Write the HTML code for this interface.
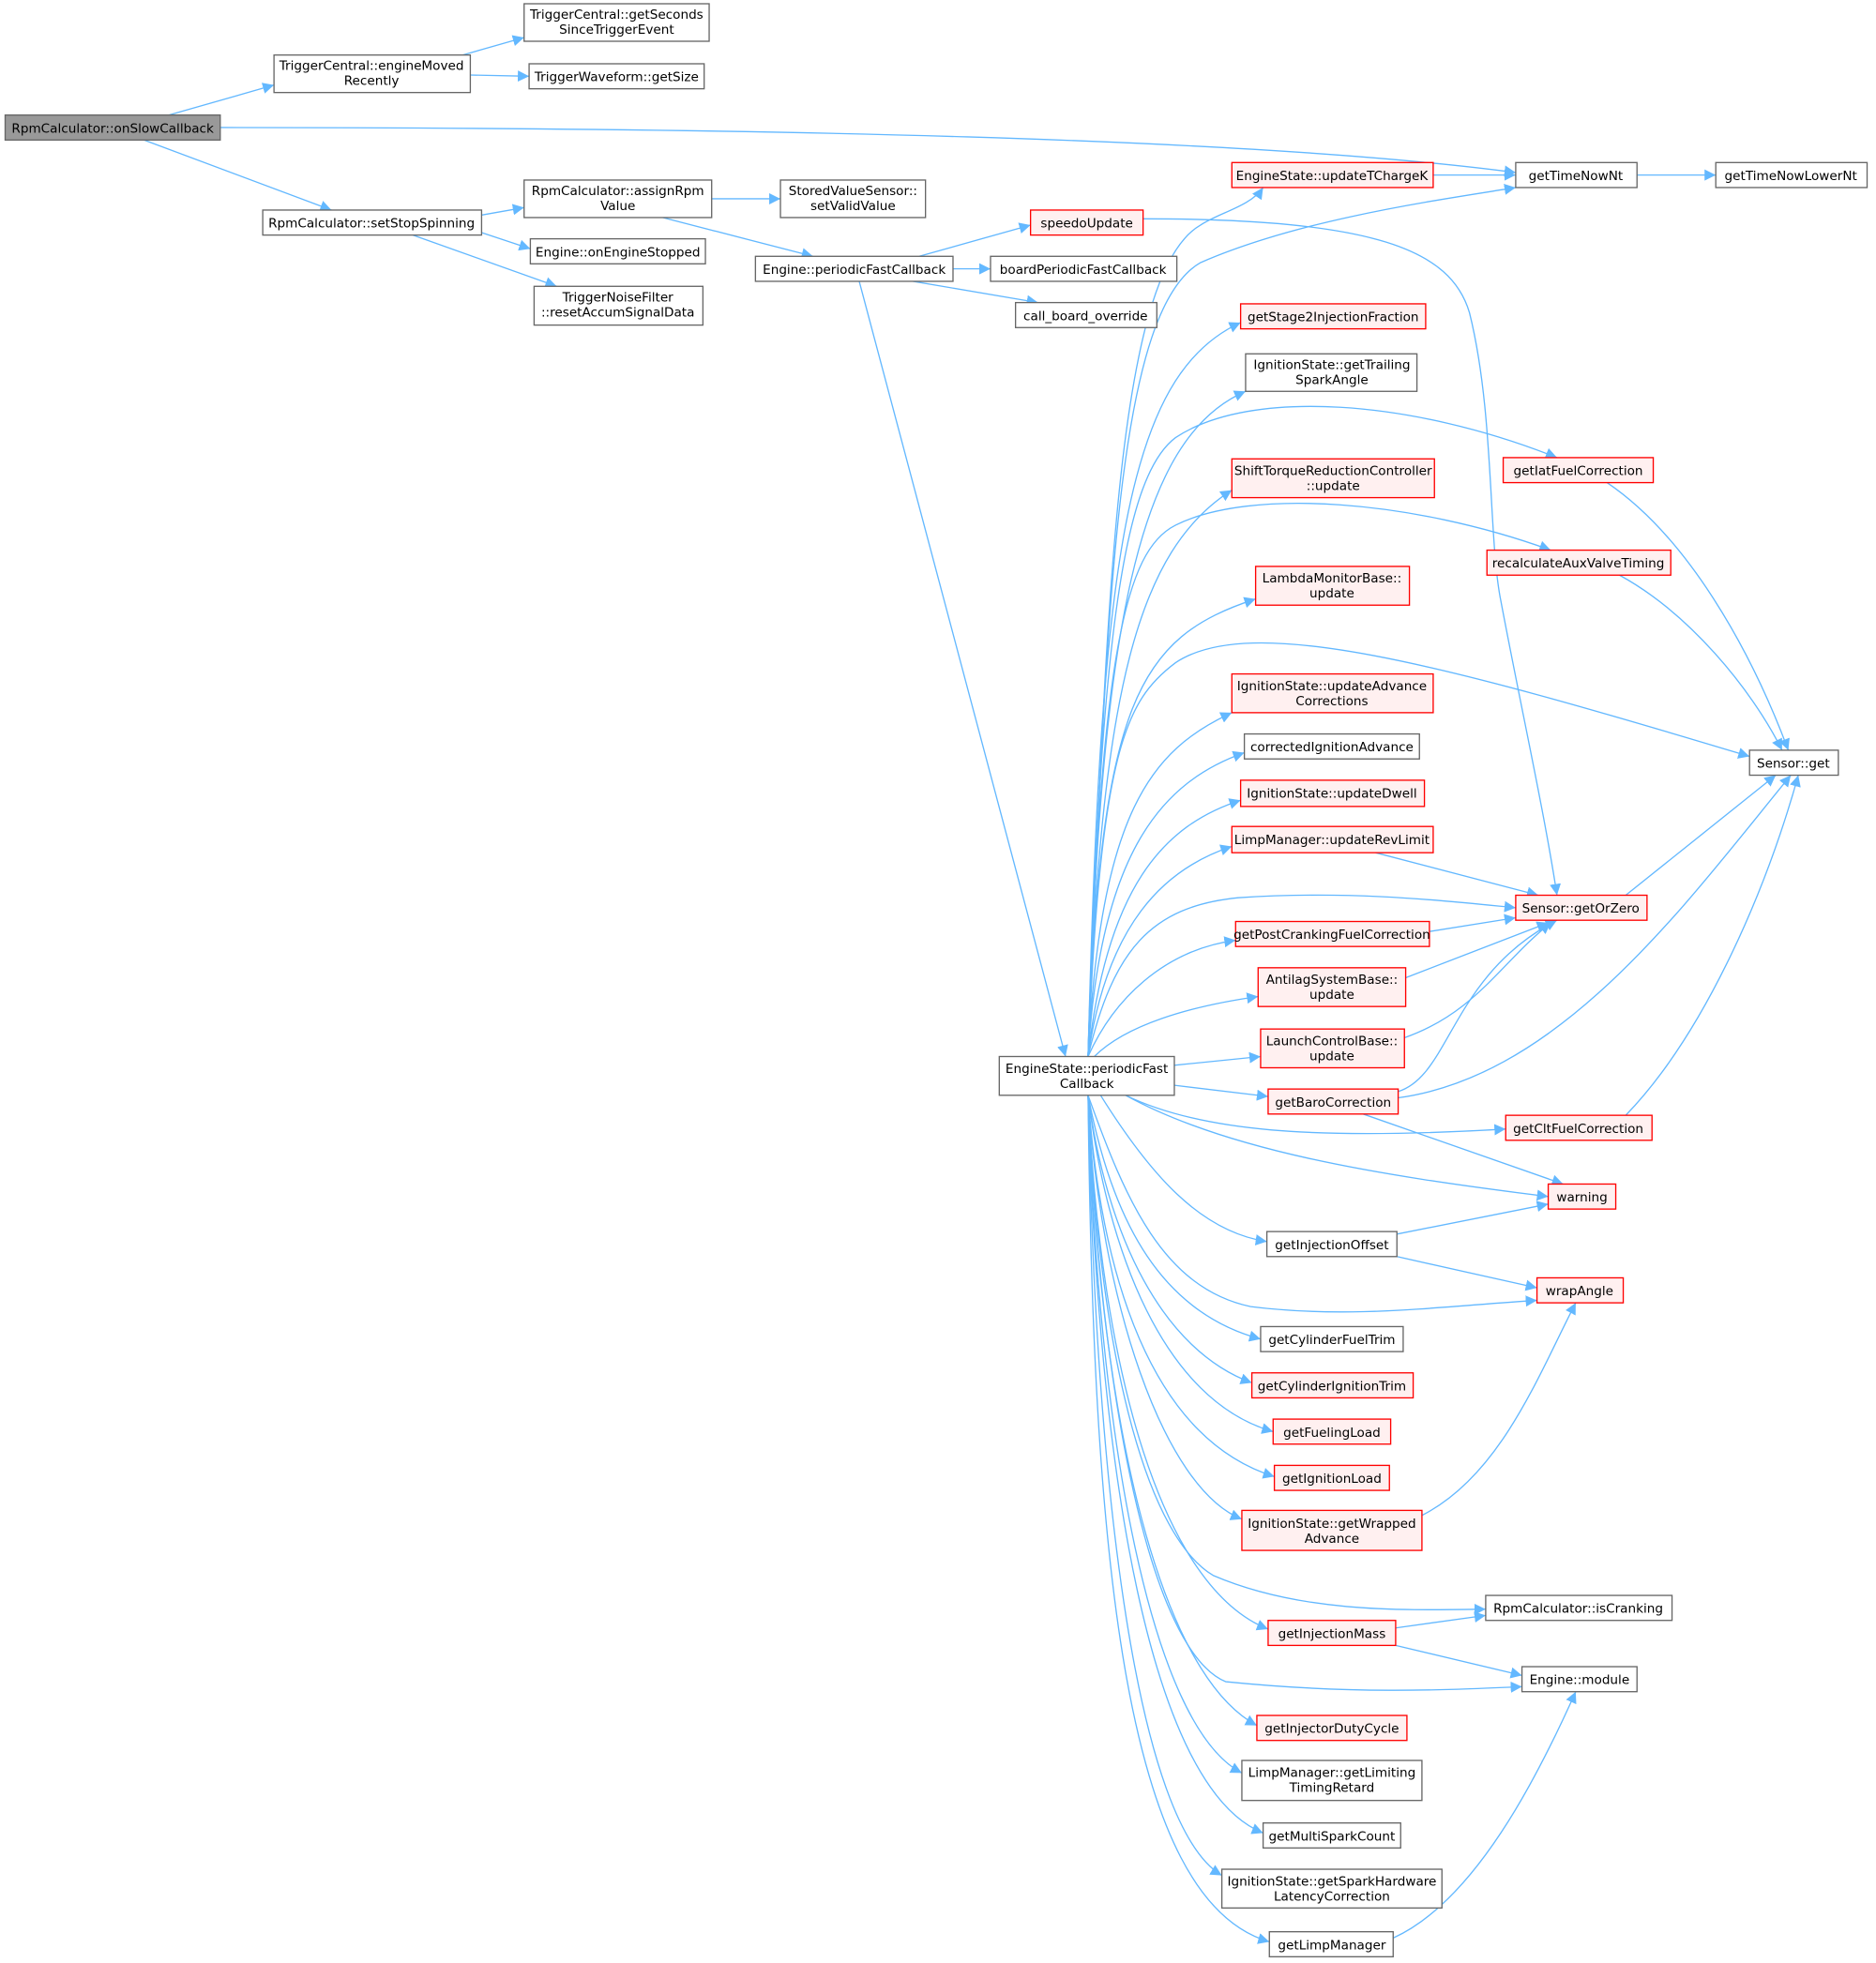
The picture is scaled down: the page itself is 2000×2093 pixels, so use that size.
<!DOCTYPE html>
<html><head><meta charset="utf-8"><style>
html,body{margin:0;padding:0;background:#fff}
svg{display:block}
text{font-family:"DejaVu Sans","Liberation Sans",sans-serif;font-size:10.2px;fill:#000;text-anchor:middle}
.n{fill:#fff;stroke:#666;stroke-width:1}
.r{fill:#fff0f0;stroke:#f00;stroke-width:1}
.g{fill:#999;stroke:#666;stroke-width:1}
.e{fill:none;stroke:#63b8ff;stroke-width:1}
</style></head><body>
<svg width="2000" height="2093" viewBox="0 0 1500 1570" xmlns="http://www.w3.org/2000/svg">
<defs><marker id="a" viewBox="0 0 10 10" refX="10" refY="5" markerWidth="9" markerHeight="9" markerUnits="userSpaceOnUse" orient="auto"><path d="M0,0 L10,5 L0,10 z" fill="#63b8ff"/></marker></defs>
<g marker-end="url(#a)">
<path class="e" d="M135,92 L219,68"/>
<path class="e" d="M176,102 C600,102 1000,110 1212,138"/>
<path class="e" d="M115,112 L265,168"/>
<path class="e" d="M370,44 L419,30"/>
<path class="e" d="M376,60 L423,61"/>
<path class="e" d="M385,172 L419,166"/>
<path class="e" d="M385,186 L424,199"/>
<path class="e" d="M330,188 L445,229"/>
<path class="e" d="M569,159 L624,159"/>
<path class="e" d="M530,174 L650,205"/>
<path class="e" d="M735,205 L824,180"/>
<path class="e" d="M762,215 L792,215"/>
<path class="e" d="M730,225 L830,242"/>
<path class="e" d="M687,225 L852,845"/>
<path class="e" d="M914,175 C1100,175 1160,200 1175,250 C1195,330 1190,430 1200,480 C1215,560 1235,650 1245,716"/>
<path class="e" d="M1146,140 L1212,140"/>
<path class="e" d="M1309,140 L1372,140"/>
<!-- hub up -->
<path class="e" d="M870,845 C885,500 890,220 960,180 C975,170 1000,165 1010,150"/>
<path class="e" d="M870,845 C885,500 890,250 960,210 C1040,175 1150,160 1212,150"/>
<path class="e" d="M870,845 C880,450 900,300 992,258"/>
<path class="e" d="M870,845 C880,500 910,350 996,313"/>
<path class="e" d="M870,845 C880,550 910,440 985,392"/>
<path class="e" d="M870,845 C880,500 900,380 940,350 C1000,310 1130,320 1245,366"/>
<path class="e" d="M870,845 C880,560 910,510 1004,479"/>
<path class="e" d="M870,845 C880,520 900,440 940,420 C1000,390 1130,400 1240,440"/>
<path class="e" d="M870,845 C880,600 900,560 940,530 C1000,490 1150,530 1399,605"/>
<path class="e" d="M870,845 C880,650 920,600 985,570"/>
<path class="e" d="M870,845 C880,680 930,625 995,602"/>
<path class="e" d="M870,845 C885,710 930,660 992,640"/>
<path class="e" d="M870,845 C885,740 930,695 985,677"/>
<path class="e" d="M870,845 C890,760 920,725 990,718 C1080,712 1150,720 1212,726"/>
<path class="e" d="M870,845 C890,800 930,760 988,752"/>
<path class="e" d="M875,845 C900,820 950,805 1006,797"/>
<path class="e" d="M939,852 L1008,845"/>
<path class="e" d="M939,868 L1014,877"/>
<!-- hub down -->
<path class="e" d="M900,876 C960,905 1050,912 1204,903"/>
<path class="e" d="M900,876 C980,920 1100,940 1238,957"/>
<path class="e" d="M880,876 C920,940 960,985 1013,993"/>
<path class="e" d="M870,876 C900,960 930,1030 1000,1045 C1080,1055 1150,1045 1229,1040"/>
<path class="e" d="M870,876 C890,980 930,1050 1008,1071"/>
<path class="e" d="M870,876 C885,990 930,1080 1001,1106"/>
<path class="e" d="M870,876 C885,1000 930,1120 1018,1145"/>
<path class="e" d="M870,876 C880,1020 920,1150 1019,1181"/>
<path class="e" d="M870,876 C880,1040 930,1190 993,1215"/>
<path class="e" d="M870,876 C880,1100 920,1230 970,1260 C1040,1290 1120,1288 1188,1287"/>
<path class="e" d="M870,876 C880,1100 930,1270 1014,1303"/>
<path class="e" d="M870,876 C880,1120 920,1320 980,1345 C1080,1355 1150,1352 1217,1349"/>
<path class="e" d="M870,876 C880,1150 930,1340 1005,1380"/>
<path class="e" d="M870,876 C878,1150 920,1380 993,1418"/>
<path class="e" d="M870,876 C878,1180 920,1430 1010,1466"/>
<path class="e" d="M870,876 C876,1200 910,1460 977,1500"/>
<path class="e" d="M870,876 C874,1250 900,1520 1015,1553"/>
<!-- others -->
<path class="e" d="M1285,386 C1350,430 1400,520 1430,600"/>
<path class="e" d="M1295,460 C1350,490 1400,550 1425,600"/>
<path class="e" d="M1300,716 L1420,620"/>
<path class="e" d="M1100,682 L1230,716"/>
<path class="e" d="M1143,745 L1212,734"/>
<path class="e" d="M1124,782 L1238,738"/>
<path class="e" d="M1123,830 C1180,810 1200,770 1240,738"/>
<path class="e" d="M1118,873 C1160,860 1160,780 1245,736"/>
<path class="e" d="M1118,878 C1250,860 1350,720 1432,620"/>
<path class="e" d="M1090,891 L1250,947"/>
<path class="e" d="M1300,892 C1360,830 1410,720 1438,620"/>
<path class="e" d="M1117,987 L1238,963"/>
<path class="e" d="M1117,1005 L1229,1030"/>
<path class="e" d="M1137,1212 C1200,1180 1230,1100 1260,1042"/>
<path class="e" d="M1116,1302 L1188,1292"/>
<path class="e" d="M1116,1316 L1217,1340"/>
<path class="e" d="M1114,1550 C1180,1520 1230,1420 1260,1353"/>
</g>
<!-- nodes -->
<rect class="g" x="4" y="92" width="172" height="20"/><text x="90" y="106">RpmCalculator::onSlowCallback</text>
<rect class="n" x="219" y="44" width="157" height="30"/><text x="297" y="56">TriggerCentral::engineMoved</text><text x="297" y="68">Recently</text>
<rect class="n" x="419" y="3" width="148" height="30"/><text x="493" y="15">TriggerCentral::getSeconds</text><text x="493" y="27">SinceTriggerEvent</text>
<rect class="n" x="423" y="51" width="140" height="20"/><text x="493" y="65">TriggerWaveform::getSize</text>
<rect class="n" x="1212" y="130" width="97" height="20"/><text x="1260" y="144">getTimeNowNt</text>
<rect class="n" x="1372" y="130" width="121" height="20"/><text x="1432" y="144">getTimeNowLowerNt</text>
<rect class="n" x="210" y="168" width="175" height="20"/><text x="297" y="182">RpmCalculator::setStopSpinning</text>
<rect class="n" x="419" y="144" width="150" height="30"/><text x="494" y="156">RpmCalculator::assignRpm</text><text x="494" y="168">Value</text>
<rect class="n" x="624" y="144" width="116" height="30"/><text x="682" y="156">StoredValueSensor::</text><text x="682" y="168">setValidValue</text>
<rect class="n" x="424" y="191" width="140" height="20"/><text x="494" y="205">Engine::onEngineStopped</text>
<rect class="n" x="427" y="229" width="135" height="31"/><text x="494" y="241">TriggerNoiseFilter</text><text x="494" y="253">::resetAccumSignalData</text>
<rect class="n" x="604" y="205" width="158" height="20"/><text x="683" y="219">Engine::periodicFastCallback</text>
<rect class="r" x="824" y="168" width="90" height="20"/><text x="869" y="182">speedoUpdate</text>
<rect class="n" x="792" y="205" width="149" height="20"/><text x="866" y="219">boardPeriodicFastCallback</text>
<rect class="n" x="812" y="242" width="113" height="20"/><text x="868" y="256">call_board_override</text>
<rect class="r" x="985" y="130" width="161" height="20"/><text x="1065" y="144">EngineState::updateTChargeK</text>
<rect class="r" x="992" y="243" width="148" height="20"/><text x="1066" y="257">getStage2InjectionFraction</text>
<rect class="n" x="996" y="283" width="137" height="30"/><text x="1065" y="295">IgnitionState::getTrailing</text><text x="1065" y="307">SparkAngle</text>
<rect class="r" x="985" y="367" width="162" height="31"/><text x="1066" y="380">ShiftTorqueReductionController</text><text x="1066" y="392">::update</text>
<rect class="r" x="1004" y="453" width="123" height="31"/><text x="1065" y="466">LambdaMonitorBase::</text><text x="1065" y="478">update</text>
<rect class="r" x="985" y="539" width="161" height="31"/><text x="1065" y="552">IgnitionState::updateAdvance</text><text x="1065" y="564">Corrections</text>
<rect class="n" x="995" y="587" width="140" height="20"/><text x="1065" y="601">correctedIgnitionAdvance</text>
<rect class="r" x="992" y="624" width="147" height="21"/><text x="1065" y="638">IgnitionState::updateDwell</text>
<rect class="r" x="985" y="661" width="161" height="21"/><text x="1065" y="675">LimpManager::updateRevLimit</text>
<rect class="r" x="988" y="737" width="155" height="20"/><text x="1065" y="751">getPostCrankingFuelCorrection</text>
<rect class="r" x="1006" y="774" width="118" height="31"/><text x="1065" y="787">AntilagSystemBase::</text><text x="1065" y="799">update</text>
<rect class="r" x="1008" y="823" width="115" height="31"/><text x="1065" y="836">LaunchControlBase::</text><text x="1065" y="848">update</text>
<rect class="r" x="1014" y="871" width="104" height="20"/><text x="1066" y="885">getBaroCorrection</text>
<rect class="n" x="1013" y="985" width="104" height="20"/><text x="1065" y="999">getInjectionOffset</text>
<rect class="n" x="1008" y="1061" width="114" height="20"/><text x="1065" y="1075">getCylinderFuelTrim</text>
<rect class="r" x="1001" y="1098" width="129" height="20"/><text x="1065" y="1112">getCylinderIgnitionTrim</text>
<rect class="r" x="1018" y="1135" width="94" height="20"/><text x="1065" y="1149">getFuelingLoad</text>
<rect class="r" x="1019" y="1172" width="92" height="20"/><text x="1065" y="1186">getIgnitionLoad</text>
<rect class="r" x="993" y="1208" width="144" height="32"/><text x="1065" y="1222">IgnitionState::getWrapped</text><text x="1065" y="1234">Advance</text>
<rect class="r" x="1014" y="1296" width="102" height="20"/><text x="1065" y="1310">getInjectionMass</text>
<rect class="r" x="1005" y="1372" width="120" height="20"/><text x="1065" y="1386">getInjectorDutyCycle</text>
<rect class="n" x="993" y="1408" width="144" height="32"/><text x="1065" y="1421">LimpManager::getLimiting</text><text x="1065" y="1433">TimingRetard</text>
<rect class="n" x="1010" y="1458" width="110" height="20"/><text x="1065" y="1472">getMultiSparkCount</text>
<rect class="n" x="977" y="1495" width="176" height="31"/><text x="1065" y="1508">IgnitionState::getSparkHardware</text><text x="1065" y="1520">LatencyCorrection</text>
<rect class="n" x="1015" y="1545" width="99" height="20"/><text x="1065" y="1559">getLimpManager</text>
<rect class="n" x="799" y="845" width="140" height="31"/><text x="869" y="858">EngineState::periodicFast</text><text x="869" y="870">Callback</text>
<rect class="r" x="1202" y="366" width="120" height="20"/><text x="1262" y="380">getIatFuelCorrection</text>
<rect class="r" x="1189" y="440" width="147" height="20"/><text x="1262" y="454">recalculateAuxValveTiming</text>
<rect class="n" x="1399" y="600" width="71" height="20"/><text x="1434" y="614">Sensor::get</text>
<rect class="r" x="1212" y="716" width="105" height="20"/><text x="1264" y="730">Sensor::getOrZero</text>
<rect class="r" x="1204" y="892" width="117" height="20"/><text x="1262" y="906">getCltFuelCorrection</text>
<rect class="r" x="1238" y="947" width="54" height="20"/><text x="1265" y="961">warning</text>
<rect class="r" x="1229" y="1022" width="69" height="20"/><text x="1263" y="1036">wrapAngle</text>
<rect class="n" x="1188" y="1276" width="149" height="20"/><text x="1262" y="1290">RpmCalculator::isCranking</text>
<rect class="n" x="1217" y="1333" width="92" height="20"/><text x="1263" y="1347">Engine::module</text>
</svg>
</body></html>
